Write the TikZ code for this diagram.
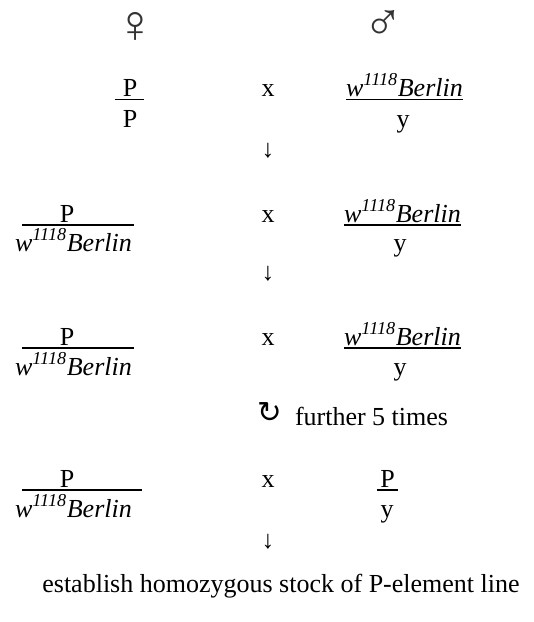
\documentclass[tikz,border=0pt]{standalone}
\usepackage{fontspec}
\setmainfont{Liberation Serif}
\newfontfamily\symfont{DejaVu Sans}
\newcommand{\wber}{\textit{w}\textsuperscript{\textit{1118}}\textit{Berlin}}
\begin{document}
\begin{tikzpicture}[x=0.75pt,y=-0.75pt,
  txt/.style={inner sep=0pt,outer sep=0pt,font=\fontsize{19.5}{23}\selectfont,anchor=base},
  sym/.style={inner sep=0pt,outer sep=0pt,font=\fontsize{19}{22}\selectfont},
  sex/.style={inner sep=0pt,outer sep=0pt,font=\fontsize{40}{44}\selectfont,text=black!80},
  bar/.style={line width=1pt}]
\useasboundingbox (0,0) rectangle (533,622);
% sexes
\node[sex] (fem) at (135,27) {♀};
\node[sex] (mal) at (383,25) {♂};
% row 1
\node[txt] (l1n) at (130,96) {P};
\node[txt] (l1d) at (130,127) {P};
\draw[bar] (115,99.5) -- (144,99.5);
\node[txt] (x1) at (268,96) {x};
\node[txt] (r1n) at (404.5,96) {\wber};
\draw[bar] (346,99.5) -- (463,99.5);
\node[txt] (r1d) at (403,127) {y};
\node[sym] (a1) at (268,151) {↓};
% row 2
\node[txt] (l2n) at (67,222) {P};
\node[txt] (l2d) at (73.5,251) {\wber};
\draw[bar] (22,225) -- (134,225);
\node[txt] (x2) at (268,222) {x};
\node[txt] (r2n) at (402.5,222) {\wber};
\draw[bar] (344,225) -- (461,225);
\node[txt] (r2d) at (400,251) {y};
\node[sym] (a2) at (268,274) {↓};
% row 3
\node[txt] (l3n) at (67,345) {P};
\node[txt] (l3d) at (73.5,375) {\wber};
\draw[bar] (22,348) -- (134,348);
\node[txt] (x3) at (268,345) {x};
\node[txt] (r3n) at (402.5,345) {\wber};
\draw[bar] (344,348) -- (461,348);
\node[txt] (r3d) at (400,375) {y};
\node[sym,font=\symfont\fontsize{22}{26}\selectfont] (rep) at (270,413) {↻};
\node[txt,anchor=base west] (reptxt) at (295,425) {further 5 times};
% row 4
\node[txt] (l4n) at (67,487) {P};
\node[txt] (l4d) at (73.5,517) {\wber};
\draw[bar] (22,490) -- (142,490);
\node[txt] (x4) at (268,487) {x};
\node[txt] (r4n) at (387.5,487) {P};
\draw[bar] (377,490) -- (398,490);
\node[txt] (r4d) at (387,517) {y};
\node[sym] (a4) at (268,542) {↓};
% final
\node[txt] (fin) at (281,592) {establish homozygous stock of P-element line};
\end{tikzpicture}
\end{document}
